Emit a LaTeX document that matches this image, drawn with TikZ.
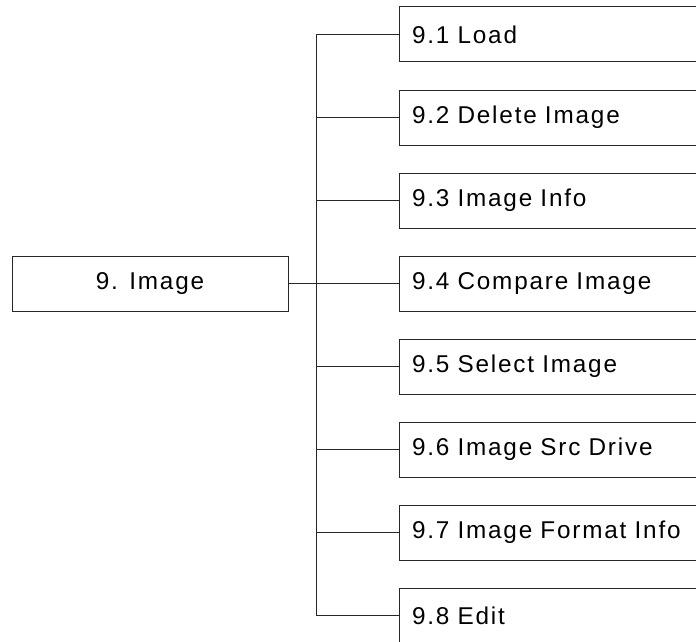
\documentclass[tikz,border=0pt]{standalone}
\usepackage{fontspec}
\setmainfont{Liberation Sans}[LetterSpace=7.5]
\begin{document}
\begin{tikzpicture}[x=1pt,y=-1pt,
  every node/.style={font=\fontsize{24.3}{28}\selectfont},
  conn/.style={draw=black!85, line width=1pt},
  rootbox/.style={draw=black!85, line width=1pt, minimum width=276pt, minimum height=55pt, inner sep=0pt},
  childbox/.style={draw=black!85, line width=1pt, anchor=west, minimum height=55pt, text width=304pt, align=left, inner xsep=12.5pt, inner ysep=0pt}]
\useasboundingbox (0,0) rectangle (696,642);
\clip (0,0) rectangle (696,642);
\fill[white] (0,0) rectangle (696,642);
\node[rootbox] (root) at (150,283.5) {9. Image};
\node[childbox] (c1) at (399,34.5) {9.1 Load};
\node[childbox] (c2) at (399,117.5) {9.2 Delete Image};
\node[childbox] (c3) at (399,200.5) {9.3 Image Info};
\node[childbox] (c4) at (399,283.5) {9.4 Compare Image};
\node[childbox] (c5) at (399,366.5) {9.5 Select Image};
\node[childbox] (c6) at (399,449.5) {9.6 Image Src Drive};
\node[childbox] (c7) at (399,532.5) {9.7 Image Format Info};
\node[childbox] (c8) at (399,615.5) {9.8 Edit};
\coordinate (j) at (316,283.5);
\draw[conn] (root.east) -- (j);
\foreach \k in {1,...,8} {\draw[conn] (j) |- (c\k.west);}
\end{tikzpicture}
\end{document}
